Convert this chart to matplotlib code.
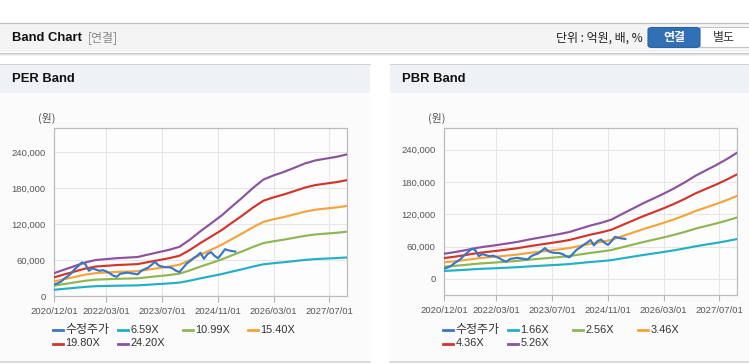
import matplotlib
matplotlib.use('Agg')
import matplotlib.pyplot as plt
import pandas as pd
from matplotlib.patches import Rectangle, FancyBboxPatch
from matplotlib.lines import Line2D

# ---------------- data ----------------
x_tick_labels = ['2020/12/01', '2022/03/01', '2023/07/01', '2024/11/01', '2026/03/01', '2027/07/01']
y_tick_values = [0, 60000, 120000, 180000, 240000]

price_start = '2020-12-01'
band_start = '2020-12-01'

# adjusted price (수정주가), monthly
price = [19000, 21000, 24000, 29000, 33000, 38000, 45000, 50000, 56000, 53000,
         42000, 46000, 44000, 42000, 43000, 41000, 38000, 34000, 32000, 37000,
         38000, 39000, 38000, 37000, 36000, 42000, 45000, 47000, 52000, 57000,
         51000, 49000, 48000, 48000, 46000, 42000, 40000, 47000, 54000, 58000,
         63000, 67000, 72000, 62000, 70000, 73000, 67000, 63000, 70000, 78000,
         76000, 75000, 74000]

# PER bands, quarterly points
per_labels = ['6.59X', '10.99X', '15.40X', '19.80X', '24.20X']
per_659 = [10350, 11980, 13620, 15250, 16340, 16750, 17150, 17430, 17700, 18790,
           19880, 20970, 22330, 25600, 29410, 32950, 36490, 40570, 44660, 49010,
           52830, 54730, 56370, 58270, 60180, 61540, 62360, 63170, 64260]
per_1099 = [17260, 19980, 22710, 25430, 27250, 27930, 28610, 29060, 29520, 31330,
            33150, 34970, 37240, 42690, 49040, 54950, 60850, 67660, 74470, 81740,
            88100, 91270, 94000, 97180, 100360, 102630, 103990, 105350, 107170]
per_1540 = [24180, 28000, 31820, 35640, 38180, 39140, 40090, 40730, 41370, 43910,
            46460, 49000, 52180, 59820, 68730, 77000, 85280, 94820, 104370, 114550,
            123460, 127920, 131730, 136190, 140640, 143830, 145740, 147640, 150190]
per_1980 = [31090, 36000, 40910, 45820, 49090, 50320, 51550, 52360, 53180, 56460,
            59730, 63000, 67090, 76910, 88370, 99000, 109640, 121910, 134180, 147280,
            158730, 164460, 169370, 175090, 180820, 184910, 187370, 189820, 193100]
per_2420 = [38000, 44000, 50000, 56000, 60000, 61500, 63000, 64000, 65000, 69000,
            73000, 77000, 82000, 94000, 108000, 121000, 134000, 149000, 164000, 180000,
            194000, 201000, 207000, 214000, 221000, 226000, 229000, 232000, 236000]

# PBR bands, quarterly points
pbr_labels = ['1.66X', '2.56X', '3.46X', '4.36X', '5.26X']
pbr_166 = [14680, 15620, 16730, 17990, 18940, 19730, 20670, 21620, 22880, 23990,
           25090, 26190, 27460, 29350, 31240, 32820, 34720, 37870, 41030, 44180,
           47020, 49860, 53020, 56490, 60280, 63440, 66590, 70060, 73850]
pbr_256 = [22630, 24090, 25800, 27740, 29200, 30420, 31880, 33340, 35290, 36990,
           38690, 40400, 42340, 45260, 48180, 50620, 53540, 58400, 63270, 68140,
           72520, 76900, 81760, 87120, 92960, 97830, 102690, 108050, 113890]
pbr_346 = [30590, 32560, 34860, 37490, 39470, 41110, 43090, 45060, 47690, 49990,
           52300, 54600, 57230, 61180, 65120, 68410, 72360, 78940, 85510, 92090,
           98010, 103930, 110510, 117750, 125640, 132220, 138800, 146030, 153930]
pbr_436 = [38540, 41030, 43930, 47250, 49730, 51810, 54290, 56780, 60100, 63000,
           65900, 68800, 72110, 77090, 82060, 86210, 91180, 99470, 107760, 116050,
           123510, 130970, 139260, 148370, 158320, 166610, 174900, 184020, 193960]
pbr_526 = [46500, 49500, 53000, 57000, 60000, 62500, 65500, 68500, 72500, 76000,
           79500, 83000, 87000, 93000, 99000, 104000, 110000, 120000, 130000, 140000,
           149000, 158000, 168000, 179000, 191000, 201000, 211000, 222000, 234000]

price_label = '수정주가'

# ---------------- style ----------------
W, H = 749, 364
KR = 'Noto Sans CJK KR'
LAT = 'Liberation Sans'
FAM = [LAT, KR, 'DejaVu Sans']
C_PRICE = '#3c76c2'
BAND_COLORS = ['#22b0c6', '#8fb653', '#f3a43b', '#d2352c', '#8d529f']

fig = plt.figure(figsize=(W / 100, H / 100), dpi=100)
fig.patch.set_facecolor('white')


def fx(x):
    return x / W


def fy(y):
    return 1 - y / H


def rect(x0, y0, x1, y1, fc, z=0):
    fig.add_artist(Rectangle((fx(x0), fy(y1)), (x1 - x0) / W, (y1 - y0) / H,
                             transform=fig.transFigure, facecolor=fc,
                             edgecolor='none', zorder=z))


def hline(x0, x1, y, color, lw=1.0, z=1):
    fig.add_artist(Line2D([fx(x0), fx(x1)], [fy(y), fy(y)], transform=fig.transFigure,
                          color=color, linewidth=lw * 0.72, zorder=z))


# header bar
hline(0, W, 22.5, '#bdbdbd', 1.2)
rect(0, 23, W, 52, '#f4f4f4')
hline(0, W, 52.5, '#c8c8c8', 1.0)
hline(0, W, 53.5, '#e2e2e2', 1.0)
hline(0, W, 54.5, '#f0f0f0', 1.0)
fig.text(fx(12), fy(38), 'Band Chart', family=FAM, fontsize=9.4, fontweight='bold',
         color='#111111', va='center', ha='left')
fig.text(fx(88), fy(38), '[연결]', family=[KR], fontsize=8.6, color='#888888',
         va='center', ha='left')
fig.text(fx(643), fy(38), '단위 : 억원, 배, %', family=[KR], fontsize=8.6,
         color='#222222', va='center', ha='right')
# buttons
fig.add_artist(FancyBboxPatch((fx(698), fy(47.5)), (W - 698 + 3) / W, 20 / H,
                              boxstyle='round,pad=0,rounding_size=0.006',
                              transform=fig.transFigure, facecolor='white',
                              edgecolor='#c4c4c4', linewidth=0.8, zorder=2))
fig.add_artist(FancyBboxPatch((fx(648), fy(47.5)), 52 / W, 20 / H,
                              boxstyle='round,pad=0,rounding_size=0.006',
                              transform=fig.transFigure, facecolor='#3270b6',
                              edgecolor='#2a62a3', linewidth=0.8, zorder=3))
fig.text(fx(674), fy(38), '연결', family=[KR], fontsize=8.6, fontweight='bold',
         color='white', va='center', ha='center', zorder=4)
fig.text(fx(724), fy(38), '별도', family=[KR], fontsize=8.6, color='#333333',
         va='center', ha='center', zorder=4)

# panels
panels = [(0, 370, 'PER Band'), (390, W, 'PBR Band')]
for x0, x1, title in panels:
    rect(x0, 64, x1, 93, '#eef1f6')
    hline(x0, x1, 64, '#d4d4d4', 1.0)
    rect(x0, 93, x1, 362, '#fbfbfb')
    hline(x0, x1, 362, '#cfcfcf', 1.5)
    fig.text(fx(x0 + 12), fy(79.5), title, family=FAM, fontsize=9.4,
             fontweight='bold', color='#111111', va='center', ha='left')

price_dates = pd.date_range(price_start, periods=len(price), freq='MS')
band_dates = pd.date_range(band_start, periods=len(per_2420), freq='3MS')
tick_dates = [pd.Timestamp(s.replace('/', '-')) for s in x_tick_labels]
x_end = pd.Timestamp('2027-12-01')


def make_chart(left_px, bottom_px, ylim, bands, labels, unit_x, legend_x):
    ax = fig.add_axes([fx(left_px), fy(bottom_px), 293 / W, (bottom_px - 128) / H])
    ax.set_facecolor('#fdfdfd')
    for vals, col in zip(bands, BAND_COLORS):
        ax.plot(band_dates, vals, color=col, lw=1.55, solid_joinstyle='round', zorder=3)
    ax.plot(price_dates, price, color=C_PRICE, lw=1.55, zorder=4)
    ax.set_xlim(price_dates[0], x_end)
    ax.set_ylim(*ylim)
    ax.set_xticks(tick_dates)
    ax.set_xticklabels(x_tick_labels, family=FAM, fontsize=6.8, color='#555555')
    ax.set_yticks(y_tick_values)
    ax.set_yticklabels([f'{v:,}' for v in y_tick_values], family=FAM, fontsize=6.8,
                       color='#555555')
    ax.tick_params(axis='x', length=4, width=0.8, color='#b5b5b5', pad=4)
    ax.tick_params(axis='y', length=0, pad=6)
    ax.grid(True, color='#e6e6e6', lw=0.75, zorder=0)
    ax.set_axisbelow(True)
    for s in ax.spines.values():
        s.set_color('#bcbcbc')
        s.set_linewidth(0.9)
    fig.text(fx(unit_x), fy(118), '(원)', family=[KR], fontsize=7.8, color='#555555',
             va='center', ha='left')
    # legend
    names = [price_label] + labels
    colors = [C_PRICE] + BAND_COLORS
    for i, (nm, col) in enumerate(zip(names, colors)):
        r, c = divmod(i, 4)
        lx = legend_x + c * 65
        ly = 330 + r * 13.5
        fig.add_artist(Line2D([fx(lx), fx(lx + 10)], [fy(ly), fy(ly)],
                              transform=fig.transFigure, color=col, lw=2.0))
        fs = 8.6 if i == 0 else 7.9
        fig.text(fx(lx + 12.5), fy(ly), nm, family=FAM, fontsize=fs,
                 color='#333333', va='center', ha='left')
    return ax


make_chart(54, 296, (0, 280000),
           [per_659, per_1099, per_1540, per_1980, per_2420], per_labels, 38, 53)
make_chart(444, 295, (-30000, 280000),
           [pbr_166, pbr_256, pbr_346, pbr_436, pbr_526], pbr_labels, 428, 443)

fig.savefig('out.png', dpi=100, facecolor='white')
